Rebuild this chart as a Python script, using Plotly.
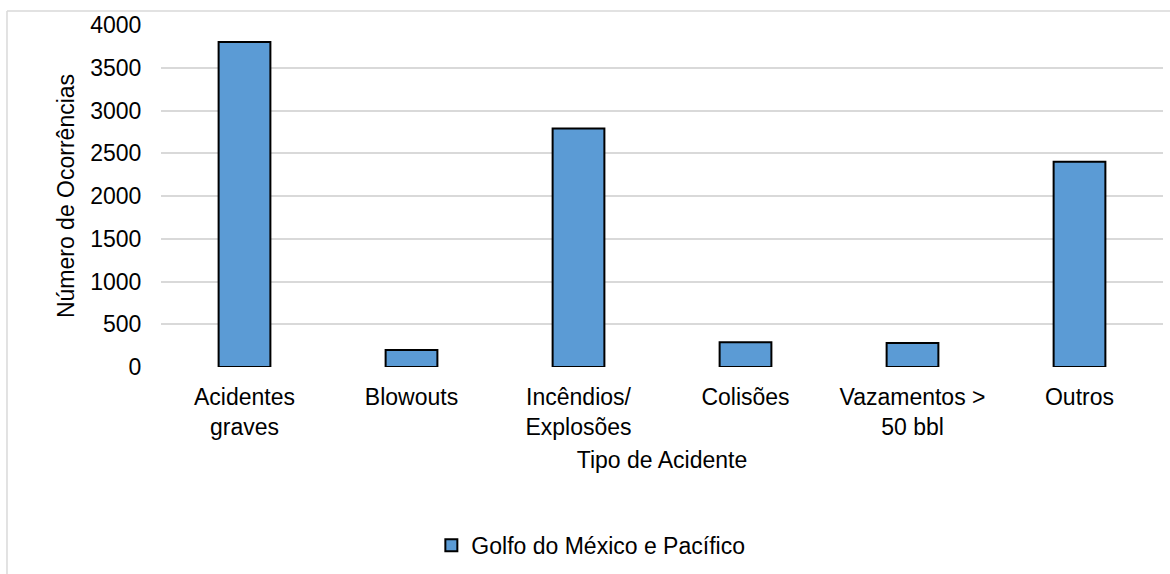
import plotly.graph_objects as go

categories = ["Acidentes<br>graves", "Blowouts", "Incêndios/<br>Explosões",
              "Colisões", "Vazamentos ><br>50 bbl", "Outros"]
ocorrencias = [3800, 200, 2790, 290, 280, 2400]
series_name = "Golfo do México e Pacífico"
y_ticks = [0, 500, 1000, 1500, 2000, 2500, 3000, 3500, 4000]

font_family = "Liberation Sans, Arial, sans-serif"
fs = 23

fig = go.Figure()
fig.add_trace(go.Bar(
    x=categories,
    y=ocorrencias,
    name=series_name,
    marker=dict(color="#5B9BD5", line=dict(color="#000000", width=2)),
    showlegend=True,
))

fig.update_layout(
    width=1170,
    height=574,
    margin=dict(l=161, r=7, t=25, b=207, autoexpand=False),
    paper_bgcolor="white",
    plot_bgcolor="white",
    bargap=0.69,
    font=dict(family=font_family, size=fs, color="#000000"),
    xaxis=dict(
        title=dict(text="Tipo de Acidente", font=dict(size=fs), standoff=13),
        ticks="outside", ticklen=9, tickcolor="rgba(0,0,0,0)",
        showgrid=False, showline=False, zeroline=False,
        tickfont=dict(size=fs),
        automargin=False,
    ),
    yaxis=dict(
        title=dict(text="Número de Ocorrências", font=dict(size=fs), standoff=9),
        range=[0, 4000],
        tickvals=y_ticks,
        ticks="outside", ticklen=14, tickcolor="rgba(0,0,0,0)",
        showgrid=True, gridcolor="#D9D9D9", gridwidth=1.5,
        zeroline=False, showline=False,
        tickfont=dict(size=fs),
        automargin=False,
    ),
    legend=dict(
        orientation="h",
        xref="container", x=0.505, xanchor="center",
        yref="container", y=0.05, yanchor="middle",
        font=dict(size=fs),
    ),
    shapes=[
        dict(type="line", xref="paper", yref="paper",
             x0=-0.1537, x1=1.02, y0=1.041, y1=1.041,
             line=dict(color="#D9D9D9", width=1.5)),
        dict(type="line", xref="paper", yref="paper",
             x0=-0.1537, x1=-0.1537, y0=1.041, y1=-0.7,
             line=dict(color="#D9D9D9", width=1.5)),
    ],
)

fig.write_html("out.html")
